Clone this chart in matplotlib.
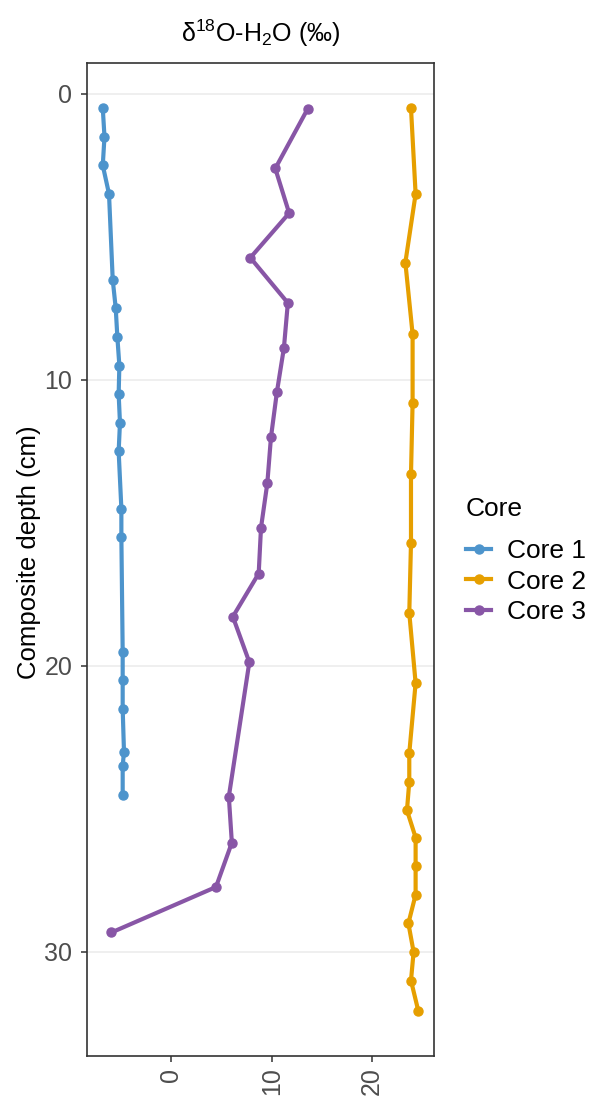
import numpy as np
import matplotlib
matplotlib.use("Agg")
import matplotlib.pyplot as plt
from matplotlib.lines import Line2D

plt.rcParams['font.family'] = ['Liberation Sans', 'DejaVu Sans']
plt.rcParams['mathtext.fontset'] = 'custom'
plt.rcParams['mathtext.rm'] = 'Liberation Sans'
plt.rcParams['mathtext.it'] = 'Liberation Sans:italic'

# Core 1
depth1 = [0.5, 1.5, 2.5, 3.5, 6.5, 7.5, 8.5, 9.5, 10.5, 11.5, 12.5, 14.5,
          15.5, 19.5, 20.5, 21.5, 23.0, 23.5, 24.5]
d18o1 = [-6.8, -6.63, -6.8, -6.18, -5.81, -5.51, -5.35, -5.15, -5.22, -5.09,
         -5.22, -4.95, -4.95, -4.82, -4.82, -4.82, -4.69, -4.82, -4.82]

# Core 2
depth2 = [0.5, 3.5, 5.9, 8.4, 10.8, 13.3, 15.7, 18.15, 20.6, 23.05, 24.05,
          25.05, 26.0, 27.0, 28.0, 29.0, 30.0, 31.0, 32.05]
d18o2 = [23.86, 24.32, 23.3, 24.02, 24.02, 23.86, 23.86, 23.69, 24.32, 23.69,
         23.69, 23.46, 24.32, 24.32, 24.32, 23.6, 24.12, 23.86, 24.58]

# Core 3
depth3 = [0.52, 2.61, 4.17, 5.73, 7.31, 8.88, 10.43, 12.01, 13.61, 15.17,
          16.77, 18.28, 19.87, 24.57, 26.18, 27.73, 29.32]
d18o3 = [13.59, 10.36, 11.74, 7.88, 11.61, 11.22, 10.52, 9.93, 9.57, 8.94,
         8.71, 6.14, 7.78, 5.74, 6.04, 4.46, -5.94]

cores = ['Core 1', 'Core 2', 'Core 3']
colors = ['#4d94cc', '#e69f00', '#8856a6']
series = [(d18o1, depth1), (d18o2, depth2), (d18o3, depth3)]

fig = plt.figure(figsize=(5.96, 10.97), dpi=100)
ax = fig.add_axes([87 / 596, 1 - 1055.7 / 1097, (434 - 87) / 596, (1055.7 - 63) / 1097])

for (x, y), c in zip(series, colors):
    ax.plot(x, y, '-o', color=c, lw=3.0, ms=6.5, solid_joinstyle='round', zorder=3)

# limits with 5% padding, like ggplot
allx = np.concatenate([d18o1, d18o2, d18o3])
ally = np.concatenate([depth1, depth2, depth3])
px = 0.05 * (allx.max() - allx.min())
py = 0.05 * (ally.max() - ally.min())
ax.set_xlim(allx.min() - px, allx.max() + px)
ax.set_ylim(ally.max() + py, ally.min() - py)

ax.set_xticks([0, 10, 20])
ax.set_yticks([0, 10, 20, 30])
ax.grid(axis='y', color='#ebebeb', lw=1.1, zorder=0)
ax.set_axisbelow(True)
for s in ax.spines.values():
    s.set_color('#333333')
    s.set_linewidth(1.2)
ax.tick_params(colors='#333333', labelcolor='#4d4d4d', labelsize=18,
               length=4.5, width=1.1)
ax.tick_params(axis='y', pad=6)
ax.tick_params(axis='x', labelrotation=90, pad=4)
for lab in ax.get_xticklabels():
    lab.set_va('top')

ax.set_ylabel('Composite depth (cm)', fontsize=18.5, color='black')
ax.yaxis.set_label_coords(-0.132, 0.507)
ax.set_title(r'$\mathrm{\delta}^{18}$O-H$_2$O (‰)', fontsize=18, pad=15)

handles = [Line2D([], [], color=c, lw=3.0, marker='o', ms=6.5) for c in colors]
leg = fig.legend(handles, cores, title='Core', loc='upper left',
                 bbox_to_anchor=(466 / 596, 1 - 497 / 1097), frameon=False,
                 fontsize=19, title_fontsize=19, handlelength=0.95,
                 handletextpad=0.62, labelspacing=0.25, borderpad=0,
                 borderaxespad=0)
leg._legend_box.align = 'left'
leg._legend_box.sep = 13

fig.savefig('out.png', dpi=100, facecolor='white')
